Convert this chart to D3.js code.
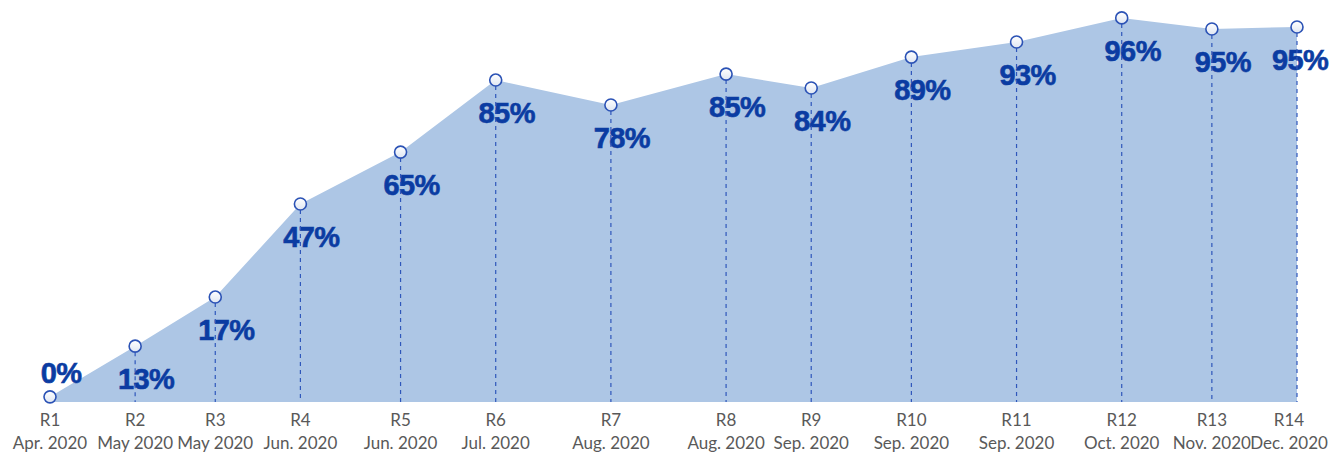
<!DOCTYPE html>
<html>
<head>
<meta charset="utf-8">
<script src="https://cdn.jsdelivr.net/npm/d3@7"></script>
<style>
  body { margin: 0; background: #fff; }
  svg { display: block; }
</style>
</head>
<body>
<div id="vis"></div>
<script>
// survey rounds
var rounds = ['R1','R2','R3','R4','R5','R6','R7','R8','R9','R10','R11','R12','R13','R14'];
var months = ['Apr. 2020','May 2020','May 2020','Jun. 2020','Jun. 2020','Jul. 2020','Aug. 2020',
              'Aug. 2020','Sep. 2020','Sep. 2020','Sep. 2020','Oct. 2020','Nov. 2020','Dec. 2020'];
var fieldDay = [0, 17, 33, 50, 70, 89, 112, 135, 152, 172, 193, 214, 232, 249];
// height of the plotted line (as drawn)
var level = [1.3, 14.1, 26.5, 50, 63.1, 81.3, 75, 82.8, 79.3, 87.1, 90.9, 97, 94.2, 94.7];
// printed labels
var pctLabel = [0, 13, 17, 47, 65, 85, 78, 85, 84, 89, 93, 96, 95, 95];

var width = 1333;
var height = 453;
var baseY = 402;

var x = d3.scaleLinear().domain([fieldDay[0], fieldDay[fieldDay.length - 1]]).range([50, 1297]);
var y = d3.scaleLinear().domain([0, 100]).range([baseY, 6]);

var data = rounds.map(function (r, i) {
  return { round: r, month: months[i], day: fieldDay[i], level: level[i], pct: pctLabel[i] };
});

var svg = d3.select('#vis').append('svg')
  .attr('width', width)
  .attr('height', height);

var defs = svg.append('defs');
var grad = defs.append('linearGradient')
  .attr('id', 'dotFill')
  .attr('x1', 0).attr('y1', 0).attr('x2', 0).attr('y2', 1);
grad.append('stop').attr('offset', '0%').attr('stop-color', '#ffffff');
grad.append('stop').attr('offset', '100%').attr('stop-color', '#dfe6f2');

// area
var area = d3.area()
  .x(function (d) { return x(d.day); })
  .y0(baseY)
  .y1(function (d) { return y(d.level); });

svg.append('path')
  .datum(data)
  .attr('d', area)
  .attr('fill', '#adc6e5');

// percentage labels
svg.selectAll('.pct')
  .data(data)
  .enter().append('text')
  .attr('class', 'pct')
  .attr('x', function (d) { return Math.min(x(d.day) + 11, 1300); })
  .attr('y', function (d, i) { return i === 0 ? y(d.level) - 14 : y(d.level) + 43; })
  .attr('text-anchor', 'middle')
  .style('font-family', '"Liberation Sans", Arial, sans-serif')
  .style('font-weight', 'bold')
  .style('font-size', '29px')
  .style('letter-spacing', '-0.6px')
  .attr('fill', '#0b3ca2')
  .attr('stroke', '#0b3ca2')
  .attr('stroke-width', 0.6)
  .text(function (d) { return d.pct + '%'; });

// dashed drop lines
svg.selectAll('.drop')
  .data(data.slice(1))
  .enter().append('line')
  .attr('class', 'drop')
  .attr('x1', function (d) { return x(d.day); })
  .attr('x2', function (d) { return x(d.day); })
  .attr('y1', function (d) { return y(d.level) + 6; })
  .attr('y2', baseY)
  .attr('stroke', '#2f57bb')
  .attr('stroke-width', 1.2)
  .attr('stroke-dasharray', '4,4');

// markers
svg.selectAll('.dot')
  .data(data)
  .enter().append('circle')
  .attr('class', 'dot')
  .attr('cx', function (d) { return x(d.day); })
  .attr('cy', function (d) { return y(d.level); })
  .attr('r', 6)
  .attr('fill', 'url(#dotFill)')
  .attr('stroke', '#2b52b5')
  .attr('stroke-width', 1.6);

// axis labels (round + month)
var ticks = svg.selectAll('.tick')
  .data(data)
  .enter().append('text')
  .attr('class', 'tick')
  .attr('text-anchor', 'middle')
  .style('font-family', 'Lato, "Open Sans", sans-serif')
  .style('font-size', '17px')
  .attr('fill', '#595959')
  .attr('transform', function (d) {
    var tx = Math.min(x(d.day), 1289);
    return 'translate(' + tx + ',0)';
  });

ticks.append('tspan')
  .attr('x', 0)
  .attr('y', 426)
  .text(function (d) { return d.round; });

ticks.append('tspan')
  .attr('x', 0)
  .attr('y', 449)
  .text(function (d) { return d.month; });
</script>
</body>
</html>
